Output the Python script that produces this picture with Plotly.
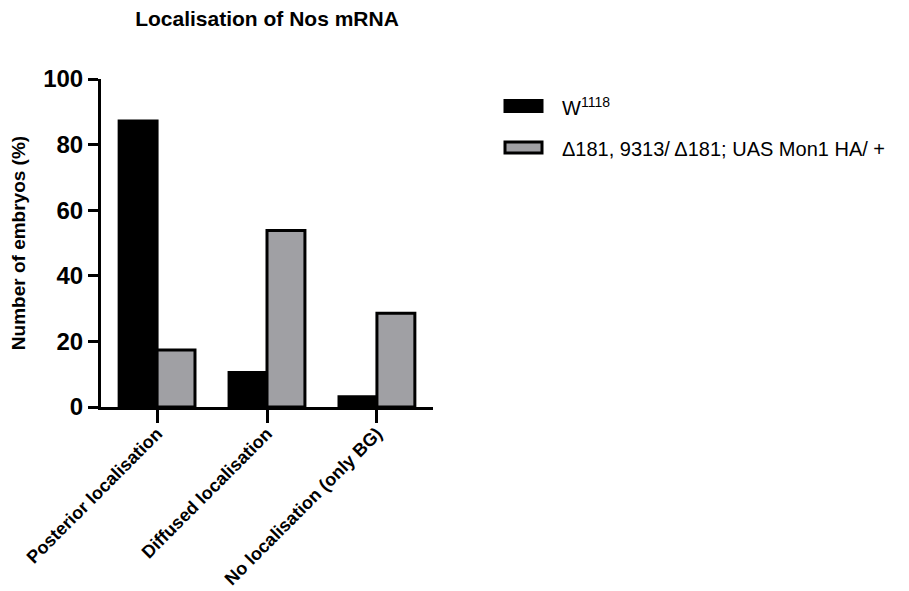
import plotly.graph_objects as go

categories = ["Posterior localisation", "Diffused localisation", "No localisation (only BG)"]
w1118 = [87.2, 10.5, 3.1]
mutant = [17.4, 53.8, 28.6]
series_names = ["W<sup>1118</sup>", "Δ181, 9313/ Δ181; UAS Mon1 HA/ +"]
y_ticks = [0, 20, 40, 60, 80, 100]

FONT = "Liberation Sans, Arial, sans-serif"
GRAY = "#a0a0a4"

# page offset (browser body margin)
OFF = 8
PX0, PX1, PY0, PY1 = 101, 433, 79, 407  # plot area in screenshot pixels
PW, PH = PX1 - PX0, PY1 - PY0


def px(x):
    return (x - PX0) / PW


def py(y):
    return (PY1 - y) / PH


fig = go.Figure()
fig.add_trace(go.Bar(x=categories, y=w1118, name=series_names[0],
                     marker=dict(color="black", line=dict(color="black", width=3))))
fig.add_trace(go.Bar(x=categories, y=mutant, name=series_names[1],
                     marker=dict(color=GRAY, line=dict(color="black", width=3))))

fig.update_layout(
    width=909, height=591,
    paper_bgcolor="white", plot_bgcolor="white",
    barmode="group", bargap=0.31, bargroupgap=0,
    showlegend=False,
    margin=dict(l=PX0 - OFF, r=909 - PX1 + OFF, t=PY0 - OFF, b=591 - PY1 + OFF,
                autoexpand=False),
    title=dict(text="<b>Localisation of Nos mRNA</b>", x=0.5, xref="paper",
               y=1 - (19 - OFF) / 591, yanchor="middle",
               font=dict(family=FONT, size=21, color="black")),
    font=dict(family=FONT, color="black"),
)
fig.update_xaxes(
    range=[-0.51, 2.51], showline=True, linewidth=3, linecolor="black",
    ticks="outside", ticklen=13, tickwidth=3, tickcolor="black",
    tickangle=-45, showgrid=False, ticklabelstandoff=-7,
    tickfont=dict(family=FONT, size=18, color="black", weight="bold"),
)
fig.update_yaxes(
    range=[0, 100], tickvals=y_ticks, showline=True, linewidth=3, linecolor="black",
    ticks="outside", ticklen=10, tickwidth=3, tickcolor="black", showgrid=False,
    zeroline=False,
    tickfont=dict(family=FONT, size=24, color="black", weight="bold"),
    title=dict(text="<b>Number of embryos (%)</b>", standoff=16,
               font=dict(family=FONT, size=19, color="black")),
)

# custom legend
legend_items = [(series_names[0], "black", 106), (series_names[1], GRAY, 147.5)]
for name, color, yc in legend_items:
    fig.add_shape(type="rect", xref="paper", yref="paper",
                  x0=px(505), x1=px(542),
                  y0=py(yc - 5.5), y1=py(yc + 5.5),
                  fillcolor=color, line=dict(color="black", width=3))
    fig.add_annotation(text=name, xref="paper", yref="paper",
                       x=px(560), y=py(yc + 1),
                       xanchor="left", yanchor="middle", showarrow=False,
                       font=dict(family=FONT, size=20, color="black"))

fig.write_html("out.html")
